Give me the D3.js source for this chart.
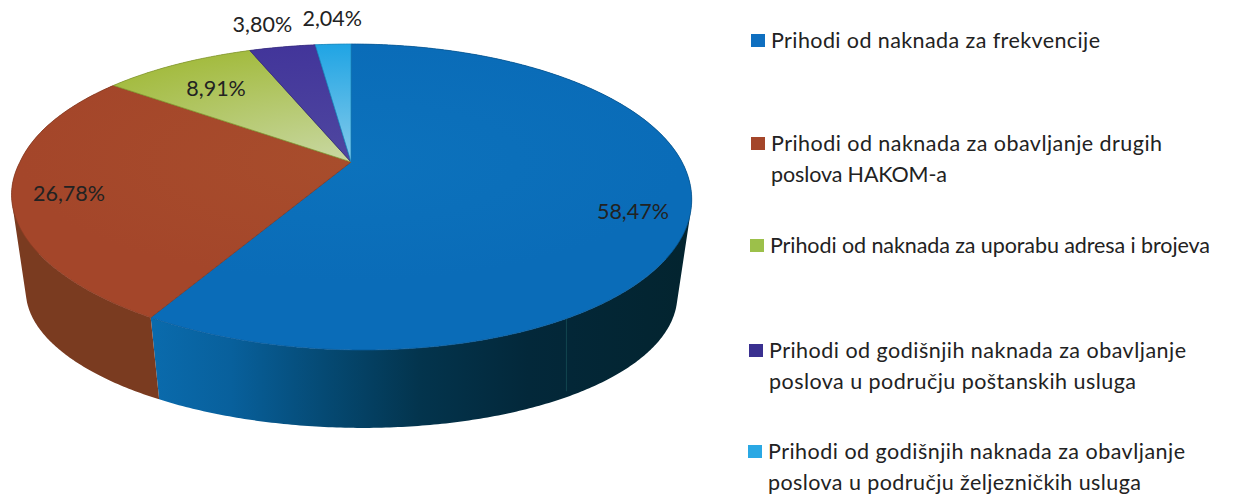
<!DOCTYPE html>
<html lang="en">
<head>
  <meta charset="utf-8">
  <title>Prihodi</title>
  <script src="https://cdn.jsdelivr.net/npm/d3@7/dist/d3.min.js"></script>
  <style>
    body { margin: 0; background: #fff; }
    text { font-family: Lato, "Open Sans", sans-serif; fill: #222; }
  </style>
</head>
<body>
  <script>
    // the data
    const categories = [
      "Prihodi od naknada za frekvencije",
      "Prihodi od naknada za obavljanje drugih|poslova HAKOM-a",
      "Prihodi od naknada za uporabu adresa i brojeva",
      "Prihodi od godišnjih naknada za obavljanje|poslova u području poštanskih usluga",
      "Prihodi od godišnjih naknada za obavljanje|poslova u području željezničkih usluga"
    ];
    const values = [58.47, 26.78, 8.91, 3.80, 2.04];
    const valueLabels = ["58,47%", "26,78%", "8,91%", "3,80%", "2,04%"];

    // colours, edge of the pie -> centre of the pie
    const topOuter = ["#0a6cb8", "#a4462a", "#a3bb3e", "#42359a", "#1fa4e4"];
    const topInner = ["#0c72bc", "#a84d2c", "#c9d8a4", "#4f47a0", "#86cbea"];
    const wallColours = ["#0a6cb0", "#7a3b20", "#6a7a2a", "#2c2468", "#147aa8"];
    const legendColours = ["#0f6fc0", "#a4462a", "#9cc04a", "#3a3090", "#2aa8e4"];

    const width = 1252, height = 497;
    const svg = d3.select("body").append("svg")
      .attr("width", width)
      .attr("height", height);
    const defs = svg.append("defs");

    // the pie is seen in perspective: unit circle -> picture
    const cx = 351, cy = 162, persp = -0.2288, ky = 107.9, kx = 331;
    function project(angle, r) {
      const u = r * Math.sin(angle), v = -r * Math.cos(angle);
      const d = 1 + persp * v;
      // small skew, the scanned pie is not quite symmetric
      const skew = v > 0 ? 12 * v * v : (u < 0 ? 10 * v * Math.abs(u) : 0);
      return [cx + kx * u / d + skew, (cy + ky * v) / d];
    }
    // the bottom rim is a narrower, flatter ellipse further down
    function bottom(angle) {
      const p = project(angle, 1);
      return [cx + (p[0] - cx) * 0.958, 293 + (p[1] - 197) * 0.882];
    }
    function arcPoints(a0, a1, fn) {
      const n = Math.max(2, Math.ceil(Math.abs(a1 - a0) / 0.01));
      return d3.range(n + 1).map(i => fn(a0 + (a1 - a0) * i / n));
    }
    const line = d3.line();

    // the wall as small quads, all wound the same way so the fold at the sides stays filled
    function wallPath(d) {
      const a = arcPoints(d.startAngle, d.endAngle, t => project(t, 1));
      const b = arcPoints(d.startAngle, d.endAngle, bottom);
      return d3.range(a.length - 1).map(i => {
        const quad = [a[i], a[i + 1], b[i + 1], b[i]];
        if (d3.polygonArea(quad) < 0) quad.reverse();
        return line(quad) + "Z";
      }).join("");
    }

    const pie = d3.pie().sort(null)(values);

    // gradients
    pie.forEach((d, i) => {
      const g = defs.append("radialGradient")
        .attr("id", "top" + i)
        .attr("gradientUnits", "userSpaceOnUse")
        .attr("cx", cx).attr("cy", cy).attr("r", 1)
        .attr("gradientTransform", `translate(${cx},${cy}) scale(${kx},${ky * 1.1}) translate(${-cx},${-cy})`);
      g.append("stop").attr("offset", 0).attr("stop-color", topInner[i]);
      g.append("stop").attr("offset", 1).attr("stop-color", topOuter[i]);
    });
    const wallShade = defs.append("linearGradient")
      .attr("id", "wallBlue")
      .attr("gradientUnits", "userSpaceOnUse")
      .attr("x1", 150).attr("x2", 690).attr("y1", 0).attr("y2", 0);
    [[0, "#0a6bad"], [0.15, "#08609c"], [0.32, "#054a74"], [0.5, "#03344d"], [0.7, "#03283a"], [1, "#03242f"]]
      .forEach(s => wallShade.append("stop").attr("offset", s[0]).attr("stop-color", s[1]));

    // side walls first, the top face covers what is behind
    svg.append("g").selectAll("path").data(pie).join("path")
      .attr("d", wallPath)
      .attr("fill", (d, i) => i === 0 ? "url(#wallBlue)" : wallColours[i]);

    // faint seam in the dark wall
    const seam = 150 * Math.PI / 180;
    svg.append("path")
      .attr("d", line([project(seam, 1), [project(seam, 1)[0], bottom(seam)[1] - 9]]))
      .attr("stroke", "#1c5a60")
      .attr("stroke-opacity", 0.6)
      .attr("stroke-width", 1)
      .attr("fill", "none");

    // top face
    svg.append("g").selectAll("path").data(pie).join("path")
      .attr("d", d => line([[cx, cy]].concat(arcPoints(d.startAngle, d.endAngle, t => project(t, 1)))) + "Z")
      .attr("fill", (d, i) => `url(#top${i})`)
      .attr("stroke", (d, i) => d3.color(topOuter[i]).darker(0.5))
      .attr("stroke-width", 0.8)
      .attr("stroke-linejoin", "round");

    // value labels: placed by hand around the slices
    const labelShift = [[13, 17], [-13, 7.5], [7.4, 6.6], [-32, -43], [-4, -46]];
    svg.append("g").selectAll("text").data(pie).join("text")
      .attr("transform", (d, i) => {
        const p = project((d.startAngle + d.endAngle) / 2, 0.8);
        return `translate(${p[0] + labelShift[i][0]},${p[1] + labelShift[i][1]})`;
      })
      .attr("text-anchor", "middle")
      .attr("dominant-baseline", "central")
      .attr("font-size", 21.5)
      .text((d, i) => valueLabels[i]);

    // legend
    const legendBase = [48, 151, 253, 358, 459];
    const legendX = [771, 771, 770, 769, 768];
    const legendWidth = [[329], [391, 176], [440], [417, 367], [417, 373]];
    const legend = svg.append("g").selectAll("g").data(categories).join("g");
    legend.append("rect")
      .attr("x", (d, i) => legendX[i] - 20)
      .attr("y", (d, i) => legendBase[i] - 14)
      .attr("width", 14)
      .attr("height", 13)
      .attr("fill", (d, i) => legendColours[i]);
    legend.each(function (d, i) {
      d3.select(this).selectAll("text").data(d.split("|")).join("text")
        .attr("x", legendX[i])
        .attr("y", (s, j) => legendBase[i] + j * 30.5)
        .attr("font-size", 21.5)
        .attr("textLength", (s, j) => legendWidth[i][j])
        .attr("lengthAdjust", "spacing")
        .text(s => s);
    });
  </script>
</body>
</html>
